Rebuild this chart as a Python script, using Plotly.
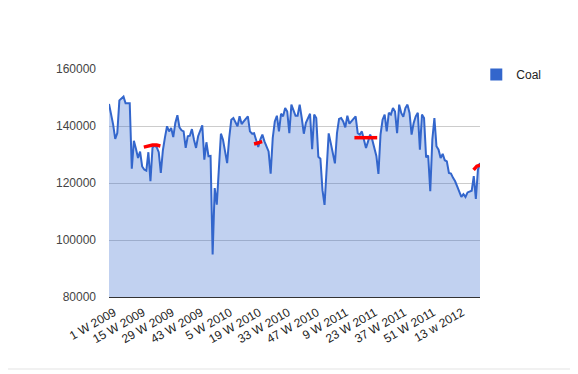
import plotly.graph_objects as go

# Weekly coal values, 1 W 2009 .. 24 W 2012 (index = week number from start)
coal = [
    147700, 144500, 140500, 135500, 137500, 149000, 149800, 150300, 148000, 148000,
    148000, 125000, 134800, 132000, 128800, 131000, 125800, 124700, 124300, 130800,
    120600, 132500, 133100, 132600, 130800, 123500, 131500, 136000, 139900, 138100,
    139300, 136100, 141100, 143800, 139500, 138500, 138100, 132300, 136400, 136600,
    138900, 135200, 132300, 136400, 138300, 140200, 128200, 134300, 129400, 129500,
    94900, 118200, 112400, 125000, 137300, 135200, 131700, 127000, 135800, 142200,
    142800, 141600, 139900, 143400, 140700, 141600, 142500, 143400, 138100, 137300,
    137500, 134600, 132600, 135200, 137000, 134600, 132600, 131100, 123300, 135800,
    141600, 143600, 138100, 144300, 143400, 146300, 145100, 137500, 147500, 145100,
    143600, 143600, 147500, 142800, 137300, 141100, 142500, 144300, 131900, 144000,
    142800, 129200, 128500, 117500, 112300, 125000, 137400, 134000, 130500, 126900,
    137500, 142500, 142800, 141600, 139500, 143600, 140800, 141600, 142500, 143400,
    137500, 137000, 138100, 135200, 132300, 134600, 137000, 135200, 132300, 129500,
    123200, 137000, 142200, 144000, 138100, 144600, 144000, 146300, 145100, 137500,
    147500, 144600, 143200, 146300, 147500, 144600, 137000, 141100, 143400, 144600,
    131700, 144000, 142800, 129000, 129600, 117100, 135200, 142800, 132900, 131700,
    128800, 130200, 128000, 127600, 123500, 123300, 121800, 120600, 118800, 116700,
    115100, 116100, 115100, 116700, 117100, 117300, 122400, 114400, 124700, 127000,
]
weeks = list(range(len(coal)))

tick_positions = list(range(0, 169, 14))
tick_labels = ["1 W 2009", "15 W 2009", "29 W 2009", "43 W 2009", "5 W 2010",
               "19 W 2010", "33 W 2010", "47 W 2010", "9 W 2011", "23 W 2011",
               "37 W 2011", "51 W 2011", "13 w 2012"]

# Red hand-drawn marks over the chart (week position, value)
mark1_x = [16.8, 19, 21, 23, 24.8]
mark1_y = [132600, 133100, 133300, 133300, 133000]
mark2_x = [70.0, 72.0, 73.9]
mark2_y = [133700, 134000, 134500]
mark3_x = [118.4, 124, 129.4]
mark3_y = [135900, 135900, 135900]
mark4_x = [175.9, 177.5, 179.0]
mark4_y = [124600, 125900, 126300]

fig = go.Figure()
fig.add_trace(go.Scatter(
    x=weeks, y=coal, mode="lines", fill="tozeroy",
    fillcolor="rgba(51,102,204,0.3)",
    line=dict(color="#3366CC", width=2),
    showlegend=False, hoverinfo="skip"))
for mx, my in [(mark1_x, mark1_y), (mark2_x, mark2_y), (mark3_x, mark3_y), (mark4_x, mark4_y)]:
    fig.add_trace(go.Scatter(x=mx, y=my, mode="lines",
                             line=dict(color="#FF0000", width=3.5),
                             showlegend=False, hoverinfo="skip"))
fig.add_trace(go.Scatter(x=[None], y=[None], mode="markers", name="Coal",
                         marker=dict(symbol="square", size=12, color="#3366CC")))

font_family = "Arial, Liberation Sans, sans-serif"
# page body has an 8px margin, so the figure is 8px smaller each way
fig.update_layout(
    width=570, height=366,
    margin=dict(l=101, r=98, t=61, b=77),
    paper_bgcolor="white", plot_bgcolor="white",
    font=dict(family=font_family, size=12, color="#222222"),
    legend=dict(x=0.99, xanchor="left", y=1.04, yanchor="top",
                font=dict(size=12, color="#222222"), itemwidth=30,
                bgcolor="rgba(0,0,0,0)"),
    xaxis=dict(range=[0, 179], tickmode="array", tickvals=tick_positions,
               ticktext=tick_labels, tickangle=-30, showgrid=False,
               showline=True, linecolor="#333333", linewidth=1,
               ticks="", zeroline=False, ticklabelshift=5, ticklabelstandoff=3,
               tickfont=dict(size=12, color="#222222")),
    yaxis=dict(range=[80000, 160000], tickvals=[80000, 100000, 120000, 140000, 160000],
               tickformat="d", showgrid=True, gridcolor="#cccccc", gridwidth=1,
               zeroline=False, showline=False, ticks="", ticklabelstandoff=12,
               tickfont=dict(size=12, color="#444444")),
    shapes=[dict(type="line", xref="paper", yref="paper",
                 x0=-109 / 371, x1=(578 - 109) / 371,
                 y0=(297 - 369) / 228, y1=(297 - 369) / 228,
                 line=dict(color="#e3e3e3", width=1))],
)

fig.write_html("out.html")
